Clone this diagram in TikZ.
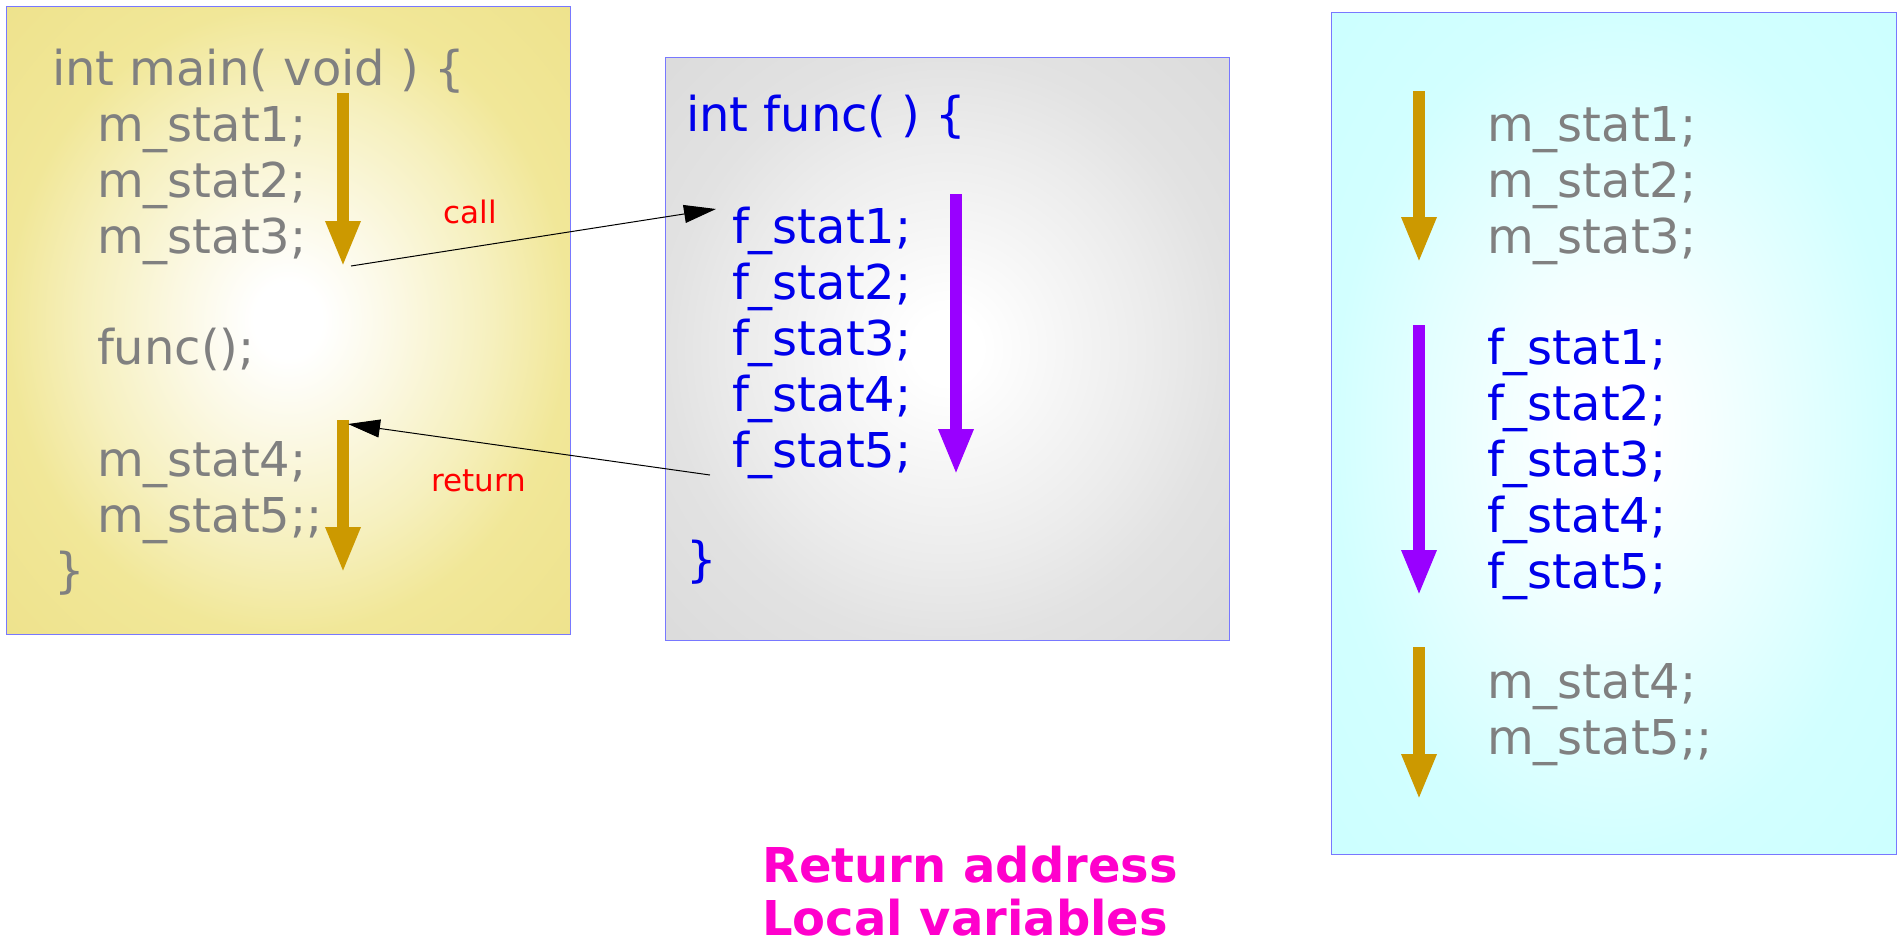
\documentclass[tikz,border=0pt]{standalone}
\usepackage{fontspec}
\setmainfont{DejaVu Sans}
\usetikzlibrary{arrows.meta}
\definecolor{codegray}{RGB}{128,128,128}
\definecolor{codeblue}{RGB}{0,0,235}
\definecolor{flowgold}{RGB}{204,153,0}
\definecolor{flowpurple}{RGB}{153,0,255}
\definecolor{boxline}{RGB}{120,120,255}
\definecolor{khakimid}{RGB}{251,248,226}
\definecolor{khakiouter}{RGB}{246,240,190}
\definecolor{khakiedge}{RGB}{241,231,152}
\definecolor{khakicorner}{RGB}{238,226,140}
\definecolor{graymid}{RGB}{246,246,246}
\definecolor{grayouter}{RGB}{236,236,236}
\definecolor{grayedge}{RGB}{226,226,226}
\definecolor{graycorner}{RGB}{219,219,219}
\definecolor{cyanmid}{RGB}{242,255,255}
\definecolor{cyanouter}{RGB}{225,255,255}
\definecolor{cyanedge}{RGB}{210,255,255}
\definecolor{cyancorner}{RGB}{204,255,255}
\definecolor{magtext}{RGB}{255,0,204}
\pgfdeclareradialshading{yellowglow}{\pgfpoint{0bp}{0bp}}{color(0bp)=(white); color(3bp)=(white); color(10bp)=(khakimid); color(18bp)=(khakiouter); color(25bp)=(khakiedge); color(36bp)=(khakicorner); color(50bp)=(khakicorner)}
\pgfdeclareradialshading{grayglow}{\pgfpoint{0bp}{0bp}}{color(0bp)=(white); color(3bp)=(white); color(10bp)=(graymid); color(18bp)=(grayouter); color(25bp)=(grayedge); color(36bp)=(graycorner); color(50bp)=(graycorner)}
\pgfdeclareradialshading{cyanglow}{\pgfpoint{0bp}{0bp}}{color(0bp)=(white); color(3bp)=(white); color(10bp)=(cyanmid); color(18bp)=(cyanouter); color(25bp)=(cyanedge); color(36bp)=(cyancorner); color(50bp)=(cyancorner)}
\tikzset{
  code/.style={font=\fontsize{48}{56}\selectfont, anchor=base west, inner sep=0pt, outer sep=0pt},
  mline/.style={code, text=codegray},
  fline/.style={code, text=codeblue},
  flowarrow/.style={line width=12pt, -{Triangle[length=46pt,width=32pt]}},
  panel/.style={draw=boxline, line width=1pt},
  link/.style={line width=1pt, -{Triangle[length=32pt,width=18pt]}},
  lbl/.style={font=\fontsize{31}{36}\selectfont, text=red, inner sep=0pt},
  note/.style={font=\fontsize{48}{56}\selectfont\bfseries, text=magtext, anchor=base west, inner sep=0pt}
}
\begin{document}
\begin{tikzpicture}[x=1pt,y=-1pt]
\useasboundingbox[fill=white] (0,0) rectangle (1903,943);
% panels
\path[panel, shading=yellowglow] (6,6) rectangle (570,634);
\path[panel, shading=grayglow] (665,57) rectangle (1229,640);
\path[panel, shading=cyanglow] (1331,12) rectangle (1896,854);
% left panel text
\node[mline] (mhead) at (52,85) {int main( void ) \{};
\node[mline] (ms1) at (97,141) {m\_stat1;};
\node[mline] (ms2) at (97,197) {m\_stat2;};
\node[mline] (ms3) at (97,253) {m\_stat3;};
\node[mline] (mcall) at (97,364) {func();};
\node[mline] (ms4) at (97,476) {m\_stat4;};
\node[mline] (ms5) at (97,532) {m\_stat5;;};
\node[mline] (mend) at (54,587) {\}};
% middle panel text
\node[fline] (fhead) at (686,131) {int func( ) \{};
\node[fline] (fs1) at (732,243) {f\_stat1;};
\node[fline] (fs2) at (732,299) {f\_stat2;};
\node[fline] (fs3) at (732,355) {f\_stat3;};
\node[fline] (fs4) at (732,411) {f\_stat4;};
\node[fline] (fs5) at (732,467) {f\_stat5;};
\node[fline] (fend) at (686,576) {\}};
% right panel text
\node[mline] (rm1) at (1487,141) {m\_stat1;};
\node[mline] (rm2) at (1487,197) {m\_stat2;};
\node[mline] (rm3) at (1487,253) {m\_stat3;};
\node[fline] (rf1) at (1487,364) {f\_stat1;};
\node[fline] (rf2) at (1487,420) {f\_stat2;};
\node[fline] (rf3) at (1487,476) {f\_stat3;};
\node[fline] (rf4) at (1487,532) {f\_stat4;};
\node[fline] (rf5) at (1487,588) {f\_stat5;};
\node[mline] (rm4) at (1487,698) {m\_stat4;};
\node[mline] (rm5) at (1487,754) {m\_stat5;;};
% flow arrows
\coordinate (ga1) at (343,93);  \coordinate (gb1) at (343,267);
\coordinate (ga2) at (343,420); \coordinate (gb2) at (343,573);
\coordinate (pa1) at (956,194); \coordinate (pb1) at (956,475);
\coordinate (rg1a) at (1419,91);  \coordinate (rg1b) at (1419,263);
\coordinate (rpa) at (1419,325);  \coordinate (rpb) at (1419,596);
\coordinate (rg2a) at (1419,647); \coordinate (rg2b) at (1419,800);
\draw[flowarrow, flowgold] (ga1) -- (gb1);
\draw[flowarrow, flowgold] (ga2) -- (gb2);
\draw[flowarrow, flowpurple] (pa1) -- (pb1);
\draw[flowarrow, flowgold] (rg1a) -- (rg1b);
\draw[flowarrow, flowpurple] (rpa) -- (rpb);
\draw[flowarrow, flowgold] (rg2a) -- (rg2b);
% call / return
\coordinate (callfrom) at (351,266); \coordinate (callto) at (716,209);
\coordinate (retfrom) at (710,475);  \coordinate (retto) at (348,424);
\draw[link] (callfrom) -- (callto);
\draw[link] (retfrom) -- (retto);
\node[lbl] (calllbl) at (470,212) {call};
\node[lbl] (retlbl) at (479,481) {return};
% bottom notes
\node[note] (note1) at (762,882) {Return address};
\node[note] (note2) at (762,935) {Local variables};
\end{tikzpicture}
\end{document}
